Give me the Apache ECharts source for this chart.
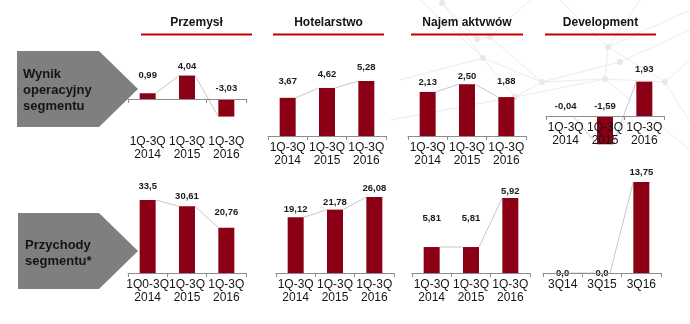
<!DOCTYPE html>
<html><head><meta charset="utf-8">
<script src="https://cdn.jsdelivr.net/npm/echarts@6/dist/echarts.min.js"></script>
<style>html,body{margin:0;padding:0;background:#fff}#c{width:690px;height:324px}</style>
</head><body><div id="c"></div>
<script>
// ---------- DATA ----------
const categoriesQ = ['1Q-3Q\n2014', '1Q-3Q\n2015', '1Q-3Q\n2016'];
const categoriesPrzRev = ['1Q0-3Q\n2014', '1Q-3Q\n2015', '1Q-3Q\n2016'];
const categoriesDevRev = ['3Q14', '3Q15', '3Q16'];
const segmentTitles = ['Przemysł', 'Hotelarstwo', 'Najem aktvwów', 'Development'];
const rowTitles = ['Wynik\noperacyjny\nsegmentu', 'Przychody\nsegmentu*'];

const przemyslWynik = [0.99, 4.04, -3.03];
const przemyslWynikLabels = ['0,99', '4,04', '-3,03'];
const hotelWynik = [3.67, 4.62, 5.28];
const hotelWynikLabels = ['3,67', '4,62', '5,28'];
const najemWynik = [2.13, 2.50, 1.88];
const najemWynikLabels = ['2,13', '2,50', '1,88'];
const devWynik = [-0.04, -1.59, 1.93];
const devWynikLabels = ['-0,04', '-1,59', '1,93'];

const przemyslRev = [33.5, 30.61, 20.76];
const przemyslRevLabels = ['33,5', '30,61', '20,76'];
const hotelRev = [19.12, 21.78, 26.08];
const hotelRevLabels = ['19,12', '21,78', '26,08'];
const najemRev = [5.81, 5.81, 16.8];        // bar heights as drawn
const najemRevLabels = ['5,81', '5,81', '5,92']; // label texts as printed
const devRev = [0, 0, 13.75];
const devRevLabels = ['0,0', '0,0', '13,75'];

// ---------- LAYOUT / STYLE ----------
const FONT = '"Liberation Sans", Arial, sans-serif';
const BAR_COLOR = '#8b0014';
const AXIS_COLOR = '#8c8c8c';
const BAR_W = 16;
const PANEL_W = 118;

// labelMode: 'axis' (on main axis), 'bottom' (at grid bottom), 'zero' (just under zero line)
const panels = [
  {left: 128, zeroY: 99,  scale: 5.8,  min: -5.43, max: 6,  cats: categoriesQ, vals: przemyslWynik, labels: przemyslWynikLabels, dist: [12.5, 3.8, 5.5], labelMode: 'bottom'},
  {left: 268, zeroY: 136, scale: 10.4, min: 0, max: 6,   cats: categoriesQ, vals: hotelWynik, labels: hotelWynikLabels, dist: [10.5, 8.5, 8.5], labelMode: 'axis'},
  {left: 408, zeroY: 136, scale: 20.7, min: 0, max: 3,   cats: categoriesQ, vals: najemWynik, labels: najemWynikLabels, dist: [4.5, 2.5, 10.5], labelMode: 'axis'},
  {left: 546, zeroY: 116, scale: 17.8, min: -2, max: 2.5, cats: categoriesQ, vals: devWynik, labels: devWynikLabels, dist: [4.5, 4.5, 6.5], labelMode: 'zero'},
  {left: 128, zeroY: 273, scale: 2.18, min: 0, max: 40,  cats: categoriesPrzRev, vals: przemyslRev, labels: przemyslRevLabels, dist: [8.5, 4.5, 9.5], labelMode: 'axis'},
  {left: 276, zeroY: 273, scale: 2.91, min: 0, max: 30,  cats: categoriesQ, vals: hotelRev, labels: hotelRevLabels, dist: [2.5, 1.5, 3.5], labelMode: 'axis'},
  {left: 412, zeroY: 273, scale: 4.47, min: 0, max: 20,  cats: categoriesQ, vals: najemRev, labels: najemRevLabels, dist: [23.5, 23.5, 1.5], labelMode: 'axis'},
  {left: 543, zeroY: 273, scale: 6.62, min: 0, max: 15,  cats: categoriesDevRev, vals: devRev, labels: devRevLabels, dist: [-5.5, -5.5, 4.5], labelMode: 'axis'}
];

const grids = [], xAxes = [], yAxes = [], series = [];

panels.forEach(function (p, g) {
  const gridBottom = p.zeroY - p.min * p.scale;
  grids.push({
    left: p.left, width: PANEL_W,
    top: p.zeroY - p.max * p.scale,
    height: (p.max - p.min) * p.scale,
    containLabel: false, outerBoundsMode: 'none'
  });
  yAxes.push({type: 'value', gridIndex: g, min: p.min, max: p.max, show: false,
    splitLine: {show: false}});
  const labelStyle = {show: true, interval: 0, margin: 5, fontSize: 12, lineHeight: 13,
    color: '#141414', fontFamily: FONT};
  const mainAxisIdx = xAxes.length;
  xAxes.push({
    type: 'category', gridIndex: g, data: p.cats, position: 'bottom', z: 10,
    axisLine: {show: true, onZero: true, lineStyle: {color: AXIS_COLOR, width: 1}},
    axisTick: {show: true, length: 4, alignWithLabel: false, lineStyle: {color: AXIS_COLOR}},
    axisLabel: p.labelMode === 'axis' ? labelStyle : {show: false},
    splitLine: {show: false}
  });
  if (p.labelMode !== 'axis') {
    xAxes.push({
      type: 'category', gridIndex: g, data: p.cats, position: 'bottom', z: 11,
      offset: p.labelMode === 'zero' ? -(gridBottom - p.zeroY) : 0,
      axisLine: {show: false, onZero: false},
      axisTick: {show: false},
      axisLabel: labelStyle,
      splitLine: {show: false}
    });
  }
  // connector lines between bar ends
  series.push({
    type: 'custom', xAxisIndex: mainAxisIdx, yAxisIndex: g, z: 1, clip: false,
    silent: true,
    data: p.vals.map(function (v, i) { return [i, v, i > 0 ? p.vals[i - 1] : v]; }),
    renderItem: function (params, api) {
      const i = api.value(0);
      if (i === 0) return {type: 'group', children: []};
      const p0 = api.coord([i - 1, api.value(2)]);
      const p1 = api.coord([i, api.value(1)]);
      return {
        type: 'line',
        shape: {x1: p0[0] + BAR_W / 2, y1: p0[1], x2: p1[0] - BAR_W / 2, y2: p1[1]},
        style: {stroke: '#c8c8c8', lineWidth: 1}
      };
    }
  });
  series.push({
    type: 'bar', xAxisIndex: mainAxisIdx, yAxisIndex: g, z: 2,
    barWidth: BAR_W, itemStyle: {color: BAR_COLOR},
    data: p.vals.map(function (v, i) { return {value: v, label: {distance: p.dist[i]}}; }),
    label: {
      show: true, position: 'top', fontSize: 9.5, fontWeight: 'bold', lineHeight: 11,
      color: '#1a1a1a', fontFamily: FONT,
      formatter: function (pr) { return p.labels[pr.dataIndex]; }
    }
  });
});

// ---------- DECORATION ----------
const graphic = [];
// faint network background
const nodes = [[442, 3], [477, 39], [490, 37], [483, 58], [515, 97], [542, 82], [605, 79], [665, 82], [608, 47], [620, 62]];
const links = [
  [[420, 0], [483, 58]], [[442, 3], [477, 39]], [[477, 39], [490, 37]], [[490, 37], [542, 82]],
  [[483, 58], [515, 97]], [[483, 58], [542, 82]], [[515, 97], [542, 82]], [[542, 82], [605, 79]],
  [[605, 79], [665, 82]], [[608, 47], [605, 79]], [[608, 47], [665, 82]], [[560, 0], [608, 47]],
  [[640, 0], [608, 47]], [[665, 82], [690, 60]], [[665, 82], [690, 122]], [[605, 79], [690, 150]],
  [[515, 97], [605, 79]], [[490, 37], [530, 0]], [[442, 3], [483, 58]], [[620, 62], [690, 30]],
  [[542, 82], [620, 62]], [[390, 120], [515, 97]], [[483, 58], [400, 80]], [[608, 47], [690, 10]]
];
links.forEach(function (l) {
  graphic.push({type: 'line', z: -10, silent: true,
    shape: {x1: l[0][0], y1: l[0][1], x2: l[1][0], y2: l[1][1]},
    style: {stroke: '#ececec', lineWidth: 1}});
});
nodes.forEach(function (n) {
  graphic.push({type: 'circle', z: -10, silent: true, shape: {cx: n[0], cy: n[1], r: 3},
    style: {fill: '#e8e8e8'}});
});

// gray arrows
[[51, 127, 17], [213, 289, 18]].forEach(function (a) {
  const t = a[0], b = a[1], l = a[2], m = (t + b) / 2;
  graphic.push({type: 'polygon', z: 1, shape: {points: [[l, t], [99, t], [138, m], [99, b], [l, b]]},
    style: {fill: '#7f7f7f'}});
});
graphic.push({type: 'text', z: 3, style: {text: rowTitles[0], x: 23, y: 90,
  textAlign: 'left', textVerticalAlign: 'middle', align: 'left', verticalAlign: 'middle',
  font: 'bold 13px ' + FONT, lineHeight: 16, fill: '#141414'}});
graphic.push({type: 'text', z: 3, style: {text: rowTitles[1], x: 25, y: 253,
  textAlign: 'left', textVerticalAlign: 'middle', align: 'left', verticalAlign: 'middle',
  font: 'bold 13px ' + FONT, lineHeight: 16, fill: '#141414'}});

// segment headers
const headerSpans = [[141, 252], [273, 384], [411, 523], [545, 656]];
segmentTitles.forEach(function (title, i) {
  const s = headerSpans[i];
  graphic.push({type: 'text', z: 3, style: {text: title, x: (s[0] + s[1]) / 2, y: 23,
    textAlign: 'center', textVerticalAlign: 'middle', align: 'center', verticalAlign: 'middle',
    font: 'bold 12px ' + FONT, fill: '#141414'}});
  graphic.push({type: 'rect', z: 3, shape: {x: s[0], y: 33.5, width: s[1] - s[0], height: 2},
    style: {fill: '#c00000'}});
});

const chart = echarts.init(document.getElementById('c'), null, {renderer: 'canvas'});
chart.setOption({
  animation: false,
  backgroundColor: '#ffffff',
  textStyle: {fontFamily: FONT},
  grid: grids, xAxis: xAxes, yAxis: yAxes, series: series,
  graphic: graphic
});
</script>
</body></html>
